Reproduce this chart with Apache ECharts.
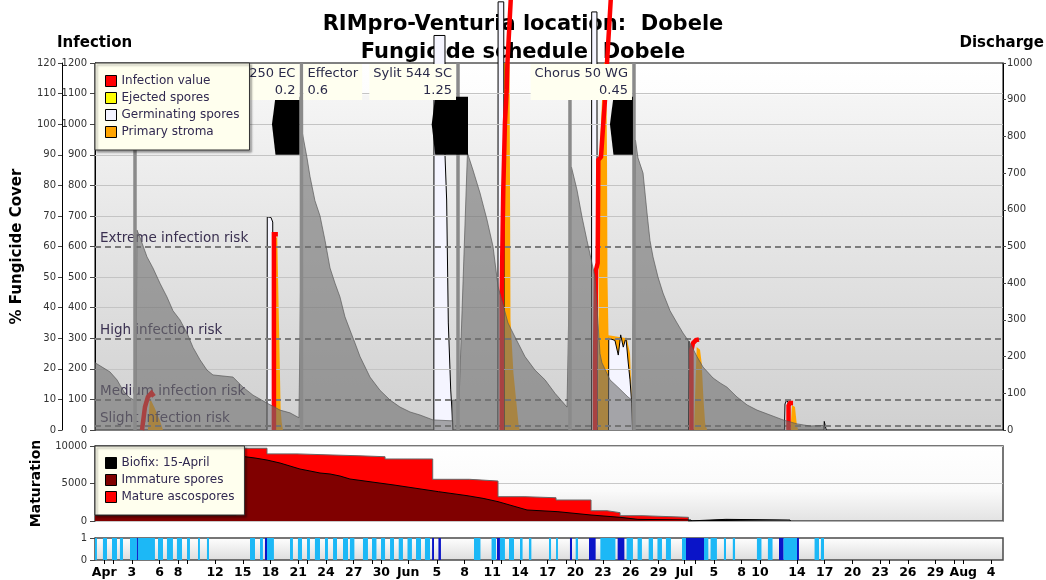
<!DOCTYPE html>
<html><head><meta charset="utf-8">
<script src="https://cdn.jsdelivr.net/npm/echarts/dist/echarts.min.js"></script>
<style>html,body{margin:0;padding:0;background:#fff}#c{width:1046px;height:580px}</style>
</head><body><div id="c"></div>
<script>
// ===== DATA (x = days since 1 May) =====
const tickDays = [-1, 2, 5, 7, 11, 14, 17, 20, 23, 26, 29, 31.9, 35, 38, 41, 44, 47, 50, 53, 56, 59, 61.8, 65, 68, 70, 74, 77, 80, 83, 86, 89, 92, 95];
const tickLabels = ['Apr','3','6','8','12','15','18','21','24','27','30','Jun','5','8','11','14','17','20','23','26','29','Jul','5','8','10','14','17','20','23','26','29','Aug','4'];
const extraTicks = [0, 8, 21, 28, 42, 49, 56, 63, 70, 77, 84, 91];

// Fungicide cover (%)
const fungicideCover = [
 [-2.0,22],[-1.46,21],[-0.92,20],[-0.38,19],[0.38,16.4],[0.70,14.7],[1.25,12],[1.79,10.5],[2.22,9.8],[2.44,9.8],
 [2.54,65.4],[2.87,63],[3.63,56.6],[4.27,53],[5.03,48],[5.79,43.5],[6.44,39],[7.20,36],[7.96,31.7],[8.61,27],[9.36,23],[10.12,19.6],[10.77,18],[12.94,17.3],[14.02,14],[15.10,11.4],[16.62,8.8],[18.03,6.5],[19.11,5.6],[20.08,4.0],[20.29,3.8],
 [20.46,97],[20.95,89],[21.27,83],[21.81,75],[22.36,70],[22.90,62],[23.44,53],[23.98,48],[24.52,43.5],[25.06,37],[25.60,32.7],[26.15,28.4],[26.69,24],[27.77,17.3],[28.85,13],[29.94,9.8],[31.02,7.5],[32.10,5.9],[33.18,4.9],[34.59,3.3],[36.65,3.0],[36.70,9.8],[37.41,9.8],[38.32,90.6],
 [38.92,85],[39.68,77.5],[40.44,68.7],[41.09,60],[41.63,47],[42.71,35],[43.47,30.4],[44.55,24],[45.63,19.6],[46.72,16.4],[47.80,12],[49.10,7.5],[49.31,7],
 [49.58,86],[50.18,78.5],[50.72,69.7],[51.26,62],[51.80,54.6],[52.13,50],[52.67,25],[52.88,22],[53.75,16.4],[54.61,14],[55.70,10.8],[56.13,9.8],
 [56.51,94.8],[56.78,89],[57.33,84],[57.76,71],[58.08,62],[58.41,56.6],[58.95,50],[59.49,44.8],[60.25,39],[61.01,35],[61.66,31.7],[62.42,28.4],[63.17,24],[63.82,20.6],[64.91,17],[65.66,15.4],[66.42,14],[67.50,10.8],[68.59,8.2],[69.67,6.5],[71.08,4.9],[72.49,3.3],[74.00,2],[75.41,1.3],[76.82,1.5],[77.03,1.5],[77.09,0]
];

// Infection events (infection scale 0-1200)
const infectionEvents = [
 [[3.09,0],[3.41,75],[3.73,108],[4.11,121],[4.38,110]],
 [[17.37,0],[17.37,640],[17.80,640]],
 [[42.03,0],[42.03,448],[42.20,785],[42.38,1004],[42.57,1112],[42.65,1200],[43.03,1420]],
 [[52.13,0],[52.13,206],[52.24,523],[52.42,546],[52.49,883],[52.78,893],[53.03,1004],[53.21,1079],[53.43,1200],[53.86,1420]],
 [[62.57,0],[62.57,260],[62.74,284],[63.06,294],[63.38,296]],
 [[73.08,0],[73.08,80],[73.24,88],[73.57,88]]
];
const germinatingEvents = [
 [[16.62,0],[16.65,697],[17.05,695],[17.24,680],[17.27,0]],
 [[34.68,0],[34.70,1290],[35.89,1290],[35.89,900],[36.07,752],[36.25,350],[36.51,131],[36.72,26],[36.75,0]],
 [[41.62,0],[41.64,1400],[42.25,1400],[42.30,0]],
 [[51.75,0],[51.77,1367],[52.34,1367],[52.37,0]],
 [[53.59,0],[53.62,300],[54.29,293],[54.65,245],[54.91,311],[55.19,271],[55.48,301],[55.73,219],[55.92,164],[56.10,88],[56.19,0]],
 [[62.25,0],[62.30,290],[62.46,296],[62.52,0]],
 [[72.64,0],[72.70,85],[72.88,98],[73.02,90],[73.05,0]],
 [[76.92,0],[76.95,28],[77.13,28],[77.16,0]]
];
const stromaEvents = [
 [[3.73,0],[3.95,105],[4.49,70],[5.03,30],[5.36,0]],
 [[17.37,0],[17.37,620],[17.73,632],[18.10,65],[18.21,25],[18.35,0]],
 [[42.06,0],[42.06,1300],[42.87,1300],[42.98,360],[43.30,186],[43.85,20],[43.96,0]],
 [[52.45,0],[52.61,880],[52.99,1150],[53.32,1300],[53.43,900],[53.48,500],[53.59,310],[55.57,300],[55.92,250],[56.13,80],[56.35,0]],
 [[62.85,0],[63.14,271],[63.50,262],[63.68,219],[63.86,108],[64.05,23],[64.27,0]],
 [[73.29,0],[73.46,82],[73.78,75],[73.97,20],[74.11,0]]
];
const ejectedSpores = [];

// Sprays
const sprayDays = [2.33, 20.35, 37.30, 49.42, 56.35];
const sprayTops = [1090, 1200, 1200, 1090, 1200];
const blockTips = [17.16, 34.45, 53.75];
const blockEnds = [20.14, 38.38, 56.24];
const blockLow = 900, blockMid = 1000, blockHigh = 1090;
const fungicideNames = ['250 EC', 'Effector', 'Sylit 544 SC', 'Chorus 50 WG'];
const fungicideDoses = ['0.2', '0.6', '1.25', '0.45'];
const fungicideDays = [20.35, 20.35, 37.30, 56.35];
const fungicideSide = ['left', 'right', 'left', 'left'];

// Risk levels & grid lines (infection scale)
const riskLevels = [600, 300, 100, 13];
const riskNames = ['Extreme infection risk', 'High infection risk', 'Medium infection risk', 'Slight infection risk'];
const gridLevels = [200, 400, 500, 700, 800, 900, 1000, 1100];

// Maturation
const matureDays  = [-2.0, 13.5, 16.62, 19.87, 23.77, 26.58, 29.40, 34.56, 38.54, 41.63, 44.55, 47.91, 51.70, 53.43, 54.84, 57.22, 62.25, 96.3];
const matureTotal = [800, 9700, 8950, 8800, 8700, 8570, 8270, 5560, 5330, 3240, 3100, 2800, 1370, 1110, 710, 490, 0, 0];
const immatureDays   = [-2.0, 13.3, 13.5, 14.24, 15.32, 16.62, 18.03, 19.11, 20.19, 21.27, 22.36, 23.44, 24.52, 25.60, 30.37, 35.19, 38.27, 40.01, 41.63, 44.77, 48.12, 51.70, 54.84, 56.78, 62.52, 62.6];
const immatureValues = [800, 800, 8650, 8570, 8400, 8130, 7730, 7330, 6930, 6670, 6400, 6270, 6000, 5600, 4800, 3910, 3380, 3020, 2580, 1470, 1240, 800, 490, 220, 130, 0];
const biofixDays   = [62.2, 62.25, 66.3, 66.35, 73.24, 73.3];
const biofixValues = [0, 250, 220, 140, 130, 0];

// Leaf wetness spans [start, end, dark]
const wetSpans = [
 [-2.0,-1.79,0],[-1.14,-0.70,0],[-0.16,0.38,0],[0.70,1.03,0],[1.79,2.54,0],[2.54,2.65,1],[2.65,4.49,0],[4.82,5.36,0],[5.79,6.44,0],[6.87,7.42,0],
 [7.96,8.28,0],[9.15,9.36,0],[10.12,10.34,0],[14.78,15.32,0],[15.86,16.18,0],[16.40,16.62,1],[16.62,17.37,0],[19.11,19.43,0],[19.97,20.41,0],[20.95,21.27,0],
 [21.81,22.36,0],[22.90,23.22,0],[23.77,24.20,0],[24.85,25.39,0],[25.60,26.08,0],[27.01,27.55,0],[27.99,28.47,0],[28.96,29.40,0],[29.94,30.37,0],[30.88,31.34,0],
 [31.83,32.31,0],[32.75,33.29,0],[33.72,34.27,0],[34.49,34.70,1],[35.18,35.45,1],[39.03,39.73,0],[40.93,41.41,0],[41.52,41.84,1],[41.84,42.38,0],[42.82,43.36,0],
 [44.01,44.29,0],[44.98,45.24,0],[47.15,47.37,0],[47.91,48.12,0],[49.42,49.64,1],[50.04,50.29,0],[51.48,52.20,1],[52.71,54.34,0],[54.58,55.31,1],[55.55,56.24,0],
 [56.74,57.21,0],[57.94,58.41,0],[58.89,59.38,0],[59.81,60.35,0],[61.55,61.98,0],[61.98,63.93,1],[63.93,64.40,0],[64.64,65.33,0],[66.09,66.31,0],[67.05,67.29,0],
 [69.66,70.15,0],[70.85,71.35,0],[72.05,72.55,1],[72.55,74.00,0],[74.00,74.21,1],[75.90,76.38,0],[76.59,76.92,0]
];

// ===== CHART =====
const FONT = 'DejaVu Sans';
const X_MIN = -2.0, X_MAX = 96.3;
function seg(events){ const out = []; events.forEach((e, i) => { if (i > 0) out.push([e[0][0], null]); e.forEach(p => out.push(p)); }); return out; }
function grad(stops){ return {type:'linear', x:0, y:0, x2:0, y2:1, colorStops: stops.map(s => ({offset:s[0], color:s[1]}))}; }
const pairs = (xs, ys) => xs.map((x, i) => [x, ys[i]]);
const lineBase = {type:'line', showSymbol:false, symbol:'none', silent:true, emphasis:{disabled:true}, animation:false};
const axisLbl = {fontFamily:FONT, fontSize:10, color:'#333', formatter: v => String(v)};

const chart = echarts.init(document.getElementById('c'), null, {renderer:'canvas'});
chart.setOption({
 animation:false,
 backgroundColor:'#fff',
 title:[
  {text:'RIMpro-Venturia location:  Dobele', left:'center', top:9, z:1, textStyle:{fontFamily:FONT, fontSize:21, fontWeight:'bold', color:'#000'}},
  {text:'Fungicide schedule  Dobele', left:'center', top:37, z:1, textStyle:{fontFamily:FONT, fontSize:21, fontWeight:'bold', color:'#000'}}
 ],
 graphic:[
  {type:'text', left:57, top:36, z:1, style:{text:'Infection', font:'bold 15px DejaVu Sans', fill:'#000'}},
  {type:'text', right:2, top:36, z:1, style:{text:'Discharge', font:'bold 15px DejaVu Sans', fill:'#000'}}
 ],
 legend:[
  {left:95, top:63, orient:'vertical', icon:'rect', itemWidth:11, itemHeight:11, itemGap:5, padding:[12,10,12,10],
   backgroundColor:'#ffffee', borderColor:'#333', borderWidth:1, shadowColor:'rgba(0,0,0,0.35)', shadowBlur:2, shadowOffsetX:2, shadowOffsetY:2,
   selectedMode:false, z:20, textStyle:{fontFamily:FONT, fontSize:12, color:'#302850', lineHeight:12},
   itemStyle:{borderColor:'#000', borderWidth:1},
   data:[
    {name:'Infection value', itemStyle:{color:'#ff0000', borderColor:'#000', borderWidth:1}},
    {name:'Ejected spores', itemStyle:{color:'#ffff00', borderColor:'#000', borderWidth:1}},
    {name:'Germinating spores', itemStyle:{color:'#f4f4ff', borderColor:'#000', borderWidth:1}},
    {name:'Primary stroma', itemStyle:{color:'#ffa500', borderColor:'#000', borderWidth:1}}
   ]},
  {left:95, top:446, orient:'vertical', icon:'rect', itemWidth:11, itemHeight:11, itemGap:5, padding:[11,10,12,10],
   backgroundColor:'#ffffee', borderColor:'#333', borderWidth:1, shadowColor:'rgba(0,0,0,0.35)', shadowBlur:2, shadowOffsetX:2, shadowOffsetY:2,
   selectedMode:false, z:20, textStyle:{fontFamily:FONT, fontSize:12, color:'#302850', lineHeight:12},
   itemStyle:{borderColor:'#000', borderWidth:1},
   data:[
    {name:'Biofix: 15-April', itemStyle:{color:'#000000', borderColor:'#000', borderWidth:1}},
    {name:'Immature spores', itemStyle:{color:'#800000', borderColor:'#000', borderWidth:1}},
    {name:'Mature ascospores', itemStyle:{color:'#ff0000', borderColor:'#000', borderWidth:1}}
   ]}
 ],
 grid:[
  {left:95, right:43, top:63, height:367, show:true, borderColor:'#000', borderWidth:1,
   backgroundColor: grad([[0,'#ffffff'],[0.085,'#fdfdfd'],[0.09,'#f5f5f5'],[1,'#d0d0d0']])},
  {left:95, right:43, top:446, height:75, show:true, borderColor:'#4a4a4a', borderWidth:1.5,
   backgroundColor: grad([[0,'#ffffff'],[0.6,'#fafafa'],[1,'#e2e2e2']])},
  {left:95, right:43, top:538, height:22, show:true, borderColor:'#4a4a4a', borderWidth:1.5,
   backgroundColor: grad([[0,'#ffffff'],[1,'#dcdcdc']])}
 ],
 xAxis:[0,1,2].map(i => ({
  type:'value', gridIndex:i, min:X_MIN, max:X_MAX, show:i === 2,
  axisLine:{show:false, onZero:false}, splitLine:{show:false},
  axisTick:{show:i === 2, customValues: tickDays.concat(extraTicks), length:4, lineStyle:{color:'#000'}},
  axisLabel:{show:i === 2, customValues: tickDays, formatter: v => { const k = tickDays.indexOf(v); return k >= 0 ? tickLabels[k] : ''; },
   fontFamily:FONT, fontWeight:'bold', fontSize:12.5, color:'#000', margin:6}
 })),
 yAxis:[
  {type:'value', gridIndex:0, min:0, max:1200, interval:100, position:'left',
   axisLine:{show:true, onZero:false, lineStyle:{color:'#000'}}, axisTick:{show:true, length:5, lineStyle:{color:'#444'}},
   axisLabel:Object.assign({margin:8}, axisLbl), splitLine:{show:false}},
  {type:'value', gridIndex:0, min:0, max:120, interval:10, position:'left', offset:33,
   name:'% Fungicide Cover', nameLocation:'middle', nameGap:37, nameRotate:90,
   nameTextStyle:{fontFamily:FONT, fontWeight:'bold', fontSize:15, color:'#000'},
   axisLine:{show:true, onZero:false, lineStyle:{color:'#000'}}, axisTick:{show:true, length:4, lineStyle:{color:'#444'}},
   axisLabel:Object.assign({margin:6}, axisLbl), splitLine:{show:false}},
  {type:'value', gridIndex:0, min:0, max:1000, interval:100, position:'right',
   axisLine:{show:true, onZero:false, lineStyle:{color:'#000'}}, axisTick:{show:true, length:3, lineStyle:{color:'#444'}},
   axisLabel:Object.assign({margin:4}, axisLbl), splitLine:{show:false}},
  {type:'value', gridIndex:1, min:0, max:10000, interval:5000, position:'left',
   name:'Maturation', nameLocation:'middle', nameGap:52, nameRotate:90,
   nameTextStyle:{fontFamily:FONT, fontWeight:'bold', fontSize:14, color:'#000'},
   axisLine:{show:true, onZero:false, lineStyle:{color:'#4a4a4a'}}, axisTick:{show:true, length:5, lineStyle:{color:'#444'}},
   axisLabel:Object.assign({margin:8}, axisLbl), splitLine:{show:true, lineStyle:{color:'#c8c8c8'}}},
  {type:'value', gridIndex:2, min:0, max:1, interval:1, position:'left',
   axisLine:{show:true, onZero:false, lineStyle:{color:'#4a4a4a'}}, axisTick:{show:true, length:5, lineStyle:{color:'#444'}},
   axisLabel:Object.assign({margin:8}, axisLbl), splitLine:{show:false}}
 ],
 series:[
  Object.assign({}, lineBase, {name:'gridlines', xAxisIndex:0, yAxisIndex:0, data:[], z:1,
   markLine:{silent:true, animation:false, symbol:['none','none'], label:{show:false},
    lineStyle:{type:'solid', color:'#c4c4c4', width:1}, data: gridLevels.map(v => ({yAxis:v}))}}),
  Object.assign({}, lineBase, {name:'Primary stroma', xAxisIndex:0, yAxisIndex:0, data:seg(stromaEvents), z:3,
   lineStyle:{width:0, color:'#ffa500'}, areaStyle:{color:'#ffa500', opacity:1}, itemStyle:{color:'#ffa500'}}),
  Object.assign({}, lineBase, {name:'Germinating spores', xAxisIndex:0, yAxisIndex:0, data:seg(germinatingEvents), z:4, clip:false,
   lineStyle:{width:1, color:'#000'}, areaStyle:{color:'#f5f5ff', opacity:1}, itemStyle:{color:'#f5f5ff'}}),
  Object.assign({}, lineBase, {name:'Infection value', xAxisIndex:0, yAxisIndex:0, data:seg(infectionEvents), z:5, clip:false,
   lineStyle:{width:4.5, color:'#ff0000', join:'miter', cap:'butt'}, itemStyle:{color:'#ff0000'}}),
  Object.assign({}, lineBase, {name:'Ejected spores', xAxisIndex:0, yAxisIndex:2, data:ejectedSpores, z:5,
   lineStyle:{width:1, color:'#ffff00'}, itemStyle:{color:'#ffff00'}}),
  Object.assign({}, lineBase, {name:'Fungicide cover', xAxisIndex:0, yAxisIndex:1, data:fungicideCover, z:6,
   lineStyle:{width:1, color:'rgba(90,90,90,0.7)'}, areaStyle:{color:'rgba(110,110,110,0.6)', opacity:1}}),
  {name:'sprays', type:'custom', xAxisIndex:0, yAxisIndex:0, z:7, silent:true, animation:false,
   data: sprayDays.map((d, i) => [d, sprayTops[i]]), encode:{x:0, y:1},
   renderItem:(params, api) => {
    const a = api.coord([api.value(0), 0]); const b = api.coord([api.value(0), api.value(1)]);
    return {type:'line', shape:{x1:a[0], y1:a[1], x2:b[0], y2:b[1]}, style:{stroke:'#8a8a8a', lineWidth:3.5}};
   }},
  {name:'blocks', type:'custom', xAxisIndex:0, yAxisIndex:0, z:8, silent:true, animation:false,
   data: blockTips.map((t, i) => [t, blockEnds[i]]), encode:{x:[0,1]},
   renderItem:(params, api) => {
    const tip = api.coord([api.value(0), blockMid]);
    const topY = api.coord([api.value(0), blockHigh])[1];
    const botY = api.coord([api.value(0), blockLow])[1];
    const endX = api.coord([api.value(1), blockLow])[0];
    const cx = tip[0] + 3.5;
    return {type:'polygon', shape:{points:[[tip[0], tip[1]], [cx, topY], [endX, topY], [endX, botY], [cx, botY]]}, style:{fill:'#000'}};
   }},
  Object.assign({}, lineBase, {name:'risk', xAxisIndex:0, yAxisIndex:0, data:[], z:9,
   markLine:{silent:true, animation:false, symbol:['none','none'],
    lineStyle:{type:[6,4], color:'#7c7c7c', width:2},
    label:{show:true, position:'insideStartTop', distance:[5,1], color:'#3a3050', fontFamily:FONT, fontSize:13.5},
    data: riskLevels.map((v, i) => ({yAxis:v, label:{formatter:riskNames[i]}}))}}),
  {name:'labels', type:'custom', xAxisIndex:0, yAxisIndex:0, z:10, silent:true, animation:false,
   data: fungicideDays.map((d, i) => [d, i]), encode:{x:0},
   renderItem:(params, api) => {
    const i = params.dataIndex; const p = api.coord([api.value(0), 1200]);
    const left = fungicideSide[i] === 'left';
    return {type:'text', style:{text: fungicideNames[i] + '\n' + fungicideDoses[i], x: left ? p[0] - 2 : p[0] + 2, y: p[1] + 1,
     align: left ? 'right' : 'left', verticalAlign:'top', font:'13px DejaVu Sans', fill:'#2a2a4a',
     backgroundColor:'#fffff0', padding:[1,4,1,4], lineHeight:17}};
   }},
  Object.assign({}, lineBase, {name:'Mature ascospores', xAxisIndex:1, yAxisIndex:3, data:pairs(matureDays, matureTotal), step:'end', z:3,
   lineStyle:{width:1, color:'#666'}, areaStyle:{color:'#ff0000', opacity:1}, itemStyle:{color:'#ff0000'}}),
  Object.assign({}, lineBase, {name:'Immature spores', xAxisIndex:1, yAxisIndex:3, data:pairs(immatureDays, immatureValues), z:4,
   lineStyle:{width:1, color:'#000'}, areaStyle:{color:'#800000', opacity:1}, itemStyle:{color:'#800000'}}),
  Object.assign({}, lineBase, {name:'Biofix: 15-April', xAxisIndex:1, yAxisIndex:3, data:pairs(biofixDays, biofixValues), z:5,
   lineStyle:{width:1, color:'#000'}, areaStyle:{color:'#000', opacity:1}, itemStyle:{color:'#000'}}),
  {name:'wetness', type:'custom', xAxisIndex:2, yAxisIndex:4, z:3, silent:true, animation:false,
   data: wetSpans, encode:{x:[0,1]},
   renderItem:(params, api) => {
    const a = api.coord([api.value(0), 1]); const b = api.coord([api.value(1), 0]);
    return {type:'rect', shape:{x:a[0], y:a[1], width:Math.max(1, b[0] - a[0]), height:b[1] - a[1]},
     style:{fill: api.value(2) ? '#0a14c8' : '#1cb8f6'}};
   }}
 ]
});
</script></body></html>
